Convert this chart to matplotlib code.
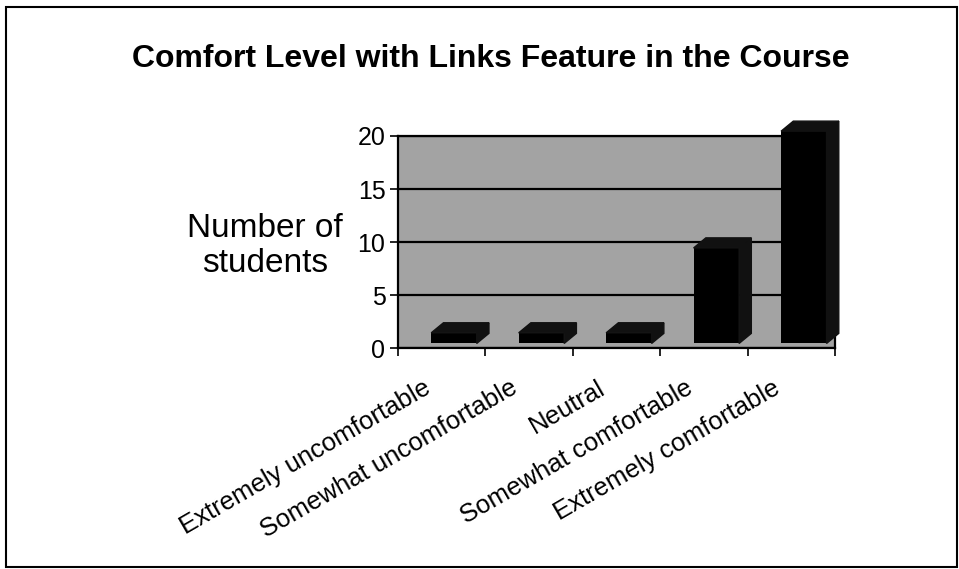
import matplotlib.pyplot as plt
from matplotlib.patches import Polygon, Rectangle

plt.rcParams["font.family"] = ["Liberation Sans", "DejaVu Sans"]

categories = ["Extremely uncomfortable", "Somewhat uncomfortable", "Neutral",
              "Somewhat comfortable", "Extremely comfortable"]
students = [1, 1, 1, 9, 20]
yticks = [0, 5, 10, 15, 20]

fig = plt.figure(figsize=(9.59, 5.69), dpi=100)
ax = fig.add_axes([0.415, 0.388, 0.456, 0.373])
ax.set_facecolor("#a3a3a3")

# 3D look: front face shifted right, depth up-right
floor = 0.45
width = 0.52
shift = 0.14
dx, dy = 0.14, 0.95
xs = [i + shift for i in range(len(students))]
bars = ax.bar(xs, students, width=width, bottom=floor, color="black", zorder=3)
for b in bars:
    b.set_clip_on(False)
for x, v in zip(xs, students):
    xl, xr, top = x - width / 2, x + width / 2, v + floor
    ax.add_patch(Polygon([(xl, top), (xl + dx, top + dy), (xr + dx, top + dy), (xr, top)],
                         closed=True, color="#111111", zorder=3, clip_on=False))
    ax.add_patch(Polygon([(xr, floor), (xr, top), (xr + dx, top + dy), (xr + dx, floor + dy)],
                         closed=True, color="#111111", zorder=3, clip_on=False))

ax.set_xlim(-0.5, len(categories) - 0.5)
ax.set_ylim(0, 20)
ax.set_yticks(yticks)
ax.yaxis.grid(True, color="black", linewidth=1.6, zorder=1)
ax.set_axisbelow(True)
ax.tick_params(axis="y", labelsize=18, length=6, width=1.2, pad=3)

# x tick marks between categories, labels placed by hand
ax.set_xticks([i - 0.5 for i in range(len(categories) + 1)])
ax.set_xticklabels([])
ax.tick_params(axis="x", length=6, width=1.2)
for i, name in enumerate(categories):
    ax.text(i - 0.22, -2.6, name, rotation=30, rotation_mode="anchor",
            ha="right", va="top", fontsize=18.5, clip_on=False)

for s in ax.spines.values():
    s.set_linewidth(1.6)
    s.set_color("black")

fig.text(0.512, 0.896, "Comfort Level with Links Feature in the Course",
         ha="center", va="center", fontsize=23, fontweight="bold")
fig.text(0.276, 0.568, "Number of\nstudents", ha="center", va="center",
         fontsize=24, linespacing=1.15)

# outer frame
fig.patches.append(Rectangle((0.006, 0.003), 0.992, 0.985, transform=fig.transFigure,
                             fill=False, edgecolor="black", linewidth=1.5))

fig.savefig("out.png", dpi=100)
